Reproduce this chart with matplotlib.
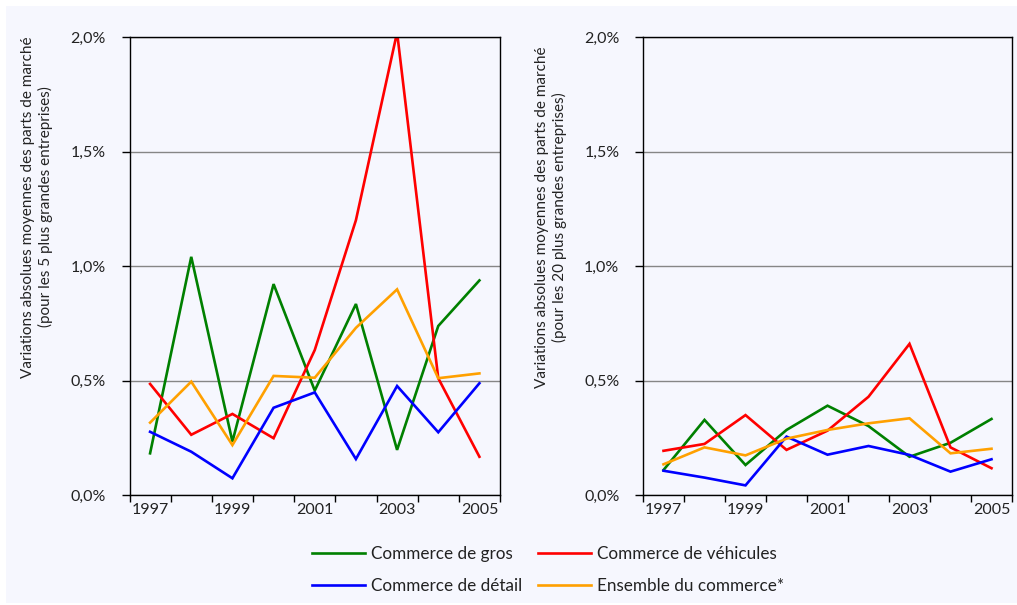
import matplotlib.pyplot as plt
from matplotlib.patches import Rectangle
from matplotlib.ticker import FixedLocator, FuncFormatter

plt.rcParams['font.family'] = ['Lato', 'DejaVu Sans']

years = ['1997', '1998', '1999', '2000', '2001', '2002', '2003', '2004', '2005']

# left panel: 5 largest firms (values in %)
gros_5 = [0.182, 1.04, 0.233, 0.921, 0.456, 0.834, 0.197, 0.738, 0.937]
vehicules_5 = [0.485, 0.263, 0.354, 0.248, 0.633, 1.20, 2.02, 0.51, 0.167]
detail_5 = [0.276, 0.189, 0.073, 0.381, 0.448, 0.157, 0.476, 0.274, 0.488]
ensemble_5 = [0.316, 0.495, 0.218, 0.52, 0.512, 0.73, 0.898, 0.51, 0.531]

# right panel: 20 largest firms (values in %)
gros_20 = [0.109, 0.328, 0.131, 0.284, 0.39, 0.301, 0.167, 0.228, 0.332]
vehicules_20 = [0.193, 0.223, 0.349, 0.197, 0.281, 0.429, 0.66, 0.208, 0.117]
detail_20 = [0.106, 0.076, 0.042, 0.255, 0.176, 0.214, 0.175, 0.102, 0.156]
ensemble_20 = [0.134, 0.208, 0.173, 0.246, 0.284, 0.313, 0.335, 0.182, 0.202]

labels = ['Commerce de gros', 'Commerce de véhicules',
          'Commerce de détail', 'Ensemble du commerce*']
colors = ['#008000', '#FF0000', '#0000FF', '#FFA000']
ylabels = ['Variations absolues moyennes des parts de marché\n(pour les 5 plus grandes entreprises)',
           'Variations absolues moyennes des parts de marché\n(pour les 20 plus grandes entreprises)']

W, H = 1017, 605
fig = plt.figure(figsize=(W / 100, H / 100), dpi=100, facecolor='white')
fig.patches.append(Rectangle((6 / W, 2 / H), 1, 1 - 8 / H, transform=fig.transFigure,
                             facecolor='#F6F7FE', edgecolor='none', zorder=-10))

text_color = '#222222'


def draw_panel(rect, series, ylabel, label_xy):
    ax = fig.add_axes(rect)
    ax.set_facecolor('none')
    x = [i + 0.5 for i in range(len(years))]
    for vals, col, lab in zip(series, colors, labels):
        ax.plot(x, vals, color=col, lw=1.9, label=lab, solid_joinstyle='miter')
    ax.set_xlim(0, len(years))
    ax.set_ylim(0, 2.0)
    ax.set_yticks([0, 0.5, 1.0, 1.5, 2.0])
    ax.yaxis.set_major_formatter(FuncFormatter(lambda v, p: f'{v:.1f}%'.replace('.', ',')))
    ax.grid(axis='y', color='#868686', lw=1)
    ax.set_axisbelow(True)
    ax.xaxis.set_major_locator(FixedLocator(range(len(years) + 1)))
    ax.xaxis.set_major_formatter(FuncFormatter(lambda v, p: ''))
    ax.xaxis.set_minor_locator(FixedLocator([i + 0.5 for i in range(0, len(years), 2)]))
    ax.set_xticklabels(years[::2], minor=True)
    ax.tick_params(axis='x', which='major', direction='out', length=5, width=1, color='black')
    ax.tick_params(axis='x', which='minor', length=0, pad=6, labelsize=11.5, labelcolor=text_color)
    ax.tick_params(axis='y', direction='out', length=6, width=1, pad=11,
                   labelsize=11.5, labelcolor=text_color)
    for s in ax.spines.values():
        s.set_color('black')
        s.set_linewidth(1)
    fig.text(label_xy[0] / W, 1 - label_xy[1] / H, ylabel, rotation=90,
             ha='center', va='center', fontsize=11, color=text_color, linespacing=1.25)
    return ax


ax1 = draw_panel([129.5 / W, 110 / H, 370.5 / W, 458 / H],
                 [gros_5, vehicules_5, detail_5, ensemble_5], ylabels[0], (37, 207))
ax2 = draw_panel([643 / W, 110 / H, 369 / W, 458 / H],
                 [gros_20, vehicules_20, detail_20, ensemble_20], ylabels[1], (551, 217))

handles, labs = ax1.get_legend_handles_labels()
order = [0, 2, 1, 3]
fig.legend([handles[i] for i in order], [labs[i] for i in order],
           loc='center', bbox_to_anchor=(548 / W, 1 - 570 / H), ncol=2, frameon=False,
           fontsize=12.3, handlelength=3.1, handletextpad=0.35, columnspacing=0.9,
           labelspacing=0.95, labelcolor=text_color)

fig.savefig('out.png', dpi=100, facecolor=fig.get_facecolor())
